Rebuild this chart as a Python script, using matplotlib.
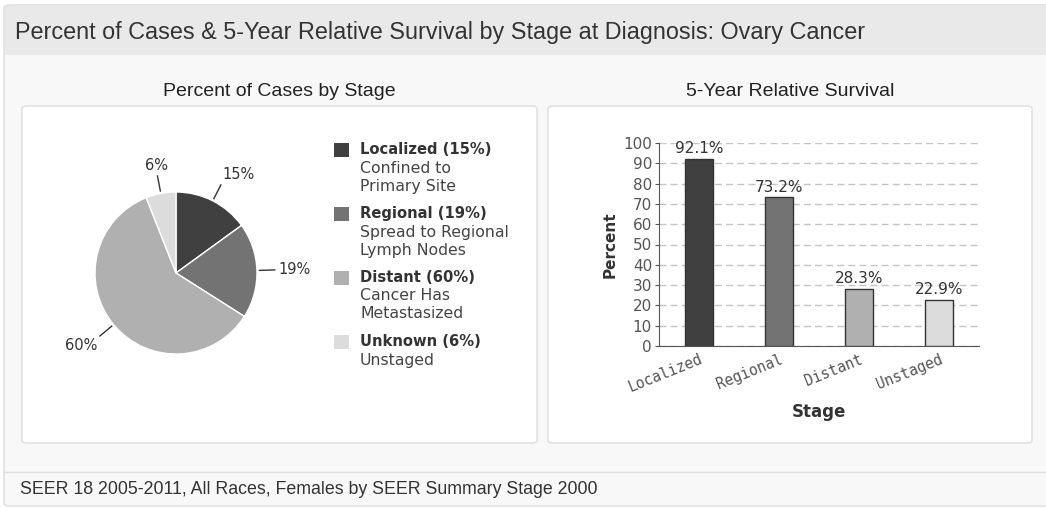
import numpy as np
import matplotlib.pyplot as plt
from matplotlib.patches import FancyBboxPatch, Rectangle

# data
stages = ['Localized', 'Regional', 'Distant', 'Unknown']
case_pct = [15, 19, 60, 6]
stage_desc = [['Confined to', 'Primary Site'],
              ['Spread to Regional', 'Lymph Nodes'],
              ['Cancer Has', 'Metastasized'],
              ['Unstaged']]
bar_labels = ['Localized', 'Regional', 'Distant', 'Unstaged']
survival = [92.1, 73.2, 28.3, 22.9]
colors = ['#404040', '#737373', '#b0b0b0', '#dcdcdc']

title = 'Percent of Cases & 5-Year Relative Survival by Stage at Diagnosis: Ovary Cancer'
footer = 'SEER 18 2005-2011, All Races, Females by SEER Summary Stage 2000'

W, H = 1046, 508
COND = ['Liberation Sans', 'DejaVu Sans']


def fx(x):
    return x / W


def fy(y):
    return 1 - y / H


def px_rect(x0, y0, x1, y1):
    # left, bottom, width, height in figure coords from pixel box
    return [fx(x0), fy(y1), (x1 - x0) / W, (y1 - y0) / H]


fig = plt.figure(figsize=(W / 100, H / 100), dpi=100)
fig.patch.set_facecolor('white')

# widget background, header band, footer line
fig.patches.append(FancyBboxPatch((fx(4), fy(506)), fx(1060) - fx(4), fy(5) - fy(506),
                                  boxstyle='round,pad=0,rounding_size=0.006',
                                  transform=fig.transFigure, facecolor='#f8f8f8',
                                  edgecolor='#dcdcdc', linewidth=1, zorder=-3))
fig.patches.append(Rectangle((fx(5), fy(55)), fx(1060) - fx(5), fy(6) - fy(55),
                             transform=fig.transFigure, facecolor='#e9e9e9',
                             edgecolor='none', zorder=-2))
fig.lines.append(plt.Line2D([fx(5), 1], [fy(472), fy(472)], transform=fig.transFigure,
                            color='#dedede', linewidth=1, zorder=-2))

# panels
for x0, x1 in [(22, 537), (548, 1032)]:
    fig.patches.append(FancyBboxPatch((fx(x0), fy(443)), fx(x1) - fx(x0), fy(106) - fy(443),
                                      boxstyle='round,pad=0,rounding_size=0.005',
                                      transform=fig.transFigure, facecolor='white',
                                      edgecolor='#dddddd', linewidth=1, zorder=-1))

fig.text(fx(15), fy(32), title, family=COND, fontsize=16.8, color='#333333',
         va='center', ha='left')
fig.text(fx(279), fy(92), 'Percent of Cases by Stage', family=COND, fontsize=14,
         color='#222222', va='center', ha='center')
fig.text(fx(790), fy(92), '5-Year Relative Survival', family=COND, fontsize=14,
         color='#222222', va='center', ha='center')
fig.text(fx(20), fy(490), footer, family=COND, fontsize=12.8, color='#333333',
         va='center', ha='left')

# pie
R = 81
cx, cy = 176, 273
half = 150
ax1 = fig.add_axes(px_rect(cx - half, cy - half, cx + half, cy + half), zorder=5)
ax1.set_facecolor('none')
wedges, _ = ax1.pie(case_pct, colors=colors, startangle=90, counterclock=False,
                    radius=1, wedgeprops=dict(edgecolor='white', linewidth=1))
lim = half / R
ax1.set_xlim(-lim, lim)
ax1.set_ylim(-lim, lim)
ax1.set_aspect('equal')
ax1.axis('off')
for w, pct in zip(wedges, case_pct):
    ang = np.deg2rad((w.theta1 + w.theta2) / 2)
    dx, dy = np.cos(ang), np.sin(ang)
    ax1.plot([1.03 * dx, 1.22 * dx], [1.03 * dy, 1.22 * dy], color='#333333', lw=1)
    if abs(dx) > 0.3:
        ha = 'left' if dx > 0 else 'right'
        va = 'center' if abs(dy) < 0.3 else ('bottom' if dy > 0 else 'top')
    else:
        ha = 'center'
        va = 'bottom' if dy > 0 else 'top'
    ax1.text(1.26 * dx, 1.26 * dy, f'{pct}%', ha=ha, va=va,
             fontsize=10.5, color='#333333')

# legend
y = 150
for name, pct, desc, col in zip(stages, case_pct, stage_desc, colors):
    fig.patches.append(Rectangle((fx(334), fy(y + 7)), fx(349) - fx(334), fy(y - 7) - fy(y + 7),
                                 transform=fig.transFigure, facecolor=col,
                                 edgecolor='none', zorder=2))
    fig.text(fx(360), fy(y), f'{name} ({pct}%)', fontsize=10.6, fontweight='bold',
             color='#333333', va='center', ha='left')
    for line in desc:
        y += 18
        fig.text(fx(360), fy(y), line, fontsize=11.3, color='#444444',
                 va='center', ha='left')
    y += 28

# bar chart
ax2 = fig.add_axes(px_rect(659, 143, 979, 346), zorder=5)
ax2.set_facecolor('none')
x = np.arange(len(survival))
bars = ax2.bar(x, survival, width=0.34, color=colors, edgecolor='#333333',
               linewidth=1, zorder=3)
for b, v in zip(bars, survival):
    ax2.annotate(f'{v}%', (b.get_x() + b.get_width() / 2, v), xytext=(0, 2),
                 textcoords='offset points', ha='center', va='bottom',
                 fontsize=11, color='#333333', zorder=4)
ax2.set_xlim(-0.5, len(survival) - 0.5)
ax2.set_ylim(0, 100)
ax2.set_yticks(np.arange(0, 101, 10))
ax2.yaxis.grid(True, linestyle=(0, (5, 3)), color='#c4c4c4', linewidth=1, zorder=0)
ax2.set_axisbelow(True)
for s in ['top', 'right']:
    ax2.spines[s].set_visible(False)
for s in ['left', 'bottom']:
    ax2.spines[s].set_color('#555555')
ax2.tick_params(axis='y', labelsize=11, labelcolor='#555555', color='#555555',
                length=3, pad=2)
ax2.tick_params(axis='x', length=0, pad=4)
ax2.set_xticks(x)
ax2.set_xticklabels(bar_labels, rotation=22, ha='right', va='top',
                    rotation_mode='anchor', family='DejaVu Sans Mono',
                    fontsize=10.5, color='#555555')
ax2.set_ylabel('Percent', fontsize=11, fontweight='bold', color='#333333', labelpad=4)
ax2.set_xlabel('Stage', fontsize=12, fontweight='bold', color='#333333', labelpad=6)

fig.savefig('out.png', dpi=100)
